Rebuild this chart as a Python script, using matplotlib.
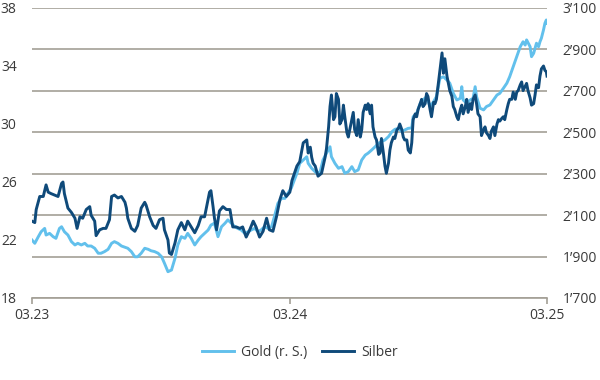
import matplotlib.pyplot as plt
import matplotlib.dates as mdates
from matplotlib.ticker import FuncFormatter
import pandas as pd

plt.rcParams['font.family'] = ['Open Sans', 'DejaVu Sans']

# silver, USD/oz (left axis)
silver_dates = [
    '2023-03-01', '2023-03-05', '2023-03-07', '2023-03-12', '2023-03-17', '2023-03-21', '2023-03-24', '2023-03-28',
    '2023-04-02', '2023-04-07', '2023-04-12', '2023-04-14', '2023-04-16', '2023-04-21', '2023-04-26', '2023-05-01',
    '2023-05-04', '2023-05-08', '2023-05-12', '2023-05-17', '2023-05-22', '2023-05-24', '2023-05-29', '2023-05-31',
    '2023-06-05', '2023-06-10', '2023-06-14', '2023-06-19', '2023-06-22', '2023-06-26', '2023-07-01', '2023-07-06',
    '2023-07-11', '2023-07-13', '2023-07-15', '2023-07-20', '2023-07-25', '2023-07-29', '2023-08-03', '2023-08-08',
    '2023-08-10', '2023-08-15', '2023-08-20', '2023-08-24', '2023-08-29', '2023-09-03', '2023-09-05', '2023-09-10',
    '2023-09-12', '2023-09-15', '2023-09-20', '2023-09-24', '2023-09-29', '2023-10-04', '2023-10-08', '2023-10-13',
    '2023-10-18', '2023-10-23', '2023-10-27', '2023-11-01', '2023-11-06', '2023-11-08', '2023-11-10', '2023-11-13',
    '2023-11-15', '2023-11-18', '2023-11-22', '2023-11-27', '2023-12-02', '2023-12-07', '2023-12-11', '2023-12-16',
    '2023-12-21', '2023-12-25', '2023-12-30', '2024-01-04', '2024-01-09', '2024-01-13', '2024-01-18', '2024-01-23',
    '2024-01-28', '2024-02-01', '2024-02-06', '2024-02-11', '2024-02-16', '2024-02-20', '2024-02-25', '2024-03-01',
    '2024-03-04', '2024-03-11', '2024-03-15', '2024-03-20', '2024-03-25', '2024-03-27', '2024-03-30', '2024-04-01',
    '2024-04-03', '2024-04-06', '2024-04-10', '2024-04-15', '2024-04-20', '2024-04-22', '2024-04-25', '2024-04-27',
    '2024-04-29', '2024-05-02', '2024-05-04', '2024-05-06', '2024-05-09', '2024-05-11', '2024-05-14', '2024-05-16',
    '2024-05-18', '2024-05-21', '2024-05-23', '2024-05-25', '2024-05-28', '2024-05-30', '2024-06-01', '2024-06-04',
    '2024-06-06', '2024-06-09', '2024-06-11', '2024-06-13', '2024-06-16', '2024-06-18', '2024-06-20', '2024-06-23',
    '2024-06-25', '2024-06-27', '2024-06-30', '2024-07-02', '2024-07-05', '2024-07-07', '2024-07-09', '2024-07-12',
    '2024-07-14', '2024-07-16', '2024-07-19', '2024-07-21', '2024-07-23', '2024-07-26', '2024-07-28', '2024-07-31',
    '2024-08-02', '2024-08-04', '2024-08-07', '2024-08-09', '2024-08-11', '2024-08-14', '2024-08-16', '2024-08-19',
    '2024-08-21', '2024-08-23', '2024-08-26', '2024-08-28', '2024-08-30', '2024-09-02', '2024-09-04', '2024-09-06',
    '2024-09-09', '2024-09-11', '2024-09-13', '2024-09-16', '2024-09-18', '2024-09-21', '2024-09-23', '2024-09-25',
    '2024-09-28', '2024-09-30', '2024-10-03', '2024-10-05', '2024-10-07', '2024-10-10', '2024-10-12', '2024-10-14',
    '2024-10-17', '2024-10-19', '2024-10-21', '2024-10-24', '2024-10-26', '2024-10-29', '2024-10-31', '2024-11-02',
    '2024-11-05', '2024-11-07', '2024-11-09', '2024-11-12', '2024-11-14', '2024-11-16', '2024-11-19', '2024-11-21',
    '2024-11-23', '2024-11-26', '2024-11-28', '2024-12-01', '2024-12-03', '2024-12-05', '2024-12-08', '2024-12-10',
    '2024-12-12', '2024-12-15', '2024-12-17', '2024-12-20', '2024-12-22', '2024-12-24', '2024-12-27', '2024-12-29',
    '2024-12-31', '2025-01-03', '2025-01-05', '2025-01-07', '2025-01-10', '2025-01-12', '2025-01-15', '2025-01-17',
    '2025-01-19', '2025-01-22', '2025-01-24', '2025-01-26', '2025-01-29', '2025-01-31', '2025-02-02', '2025-02-05',
    '2025-02-07', '2025-02-10', '2025-02-12', '2025-02-14', '2025-02-17', '2025-02-19', '2025-02-21', '2025-02-24',
    '2025-02-26', '2025-02-28', '2025-03-01',
]
silver = [
    23.3, 23.2, 24.1, 25.0, 25.0, 25.8, 25.3, 25.2,
    25.1, 25.0, 25.9, 26.0, 25.2, 24.2, 23.9, 23.5,
    22.8, 23.6, 23.5, 24.1, 24.3, 23.7, 23.3, 22.3,
    22.7, 22.8, 22.8, 23.4, 25.0, 25.1, 24.9, 25.0,
    24.6, 24.2, 23.5, 22.8, 22.6, 23.0, 24.2, 24.6,
    24.4, 23.6, 23.0, 22.8, 23.4, 23.5, 22.7, 22.0,
    21.1, 21.0, 21.8, 22.7, 23.2, 22.7, 23.3, 22.9,
    22.5, 23.0, 23.6, 23.6, 24.8, 25.3, 25.4, 24.3,
    23.5, 22.7, 24.0, 24.3, 24.1, 24.1, 22.9, 22.9,
    22.8, 22.9, 22.2, 22.7, 23.3, 22.9, 22.2, 22.6,
    23.5, 22.7, 22.6, 23.6, 24.8, 25.4, 25.0, 25.3,
    26.1, 27.1, 27.4, 28.7, 28.9, 28.0, 28.4, 27.7,
    27.3, 27.1, 26.4, 26.6, 27.7, 28.3, 29.8, 31.2,
    32.0, 30.3, 30.5, 32.1, 31.7, 30.0, 30.3, 31.3,
    30.5, 29.4, 29.1, 29.6, 30.3, 30.8, 29.6, 29.2,
    30.3, 29.1, 29.6, 30.8, 31.3, 31.0, 31.4, 30.7,
    31.3, 29.8, 29.1, 28.9, 27.9, 28.0, 29.0, 27.9,
    27.1, 26.6, 27.3, 28.2, 28.7, 29.1, 29.0, 29.6,
    29.7, 30.0, 29.6, 29.1, 28.9, 28.9, 28.2, 28.0,
    28.7, 30.3, 30.7, 30.5, 31.0, 31.4, 31.7, 31.2,
    31.4, 32.1, 31.9, 31.0, 30.5, 31.5, 31.4, 31.7,
    32.9, 33.7, 34.9, 33.5, 34.5, 33.3, 32.8, 32.3,
    31.9, 31.2, 31.0, 30.5, 30.3, 31.0, 31.3, 30.7,
    31.2, 31.7, 30.8, 31.4, 31.0, 31.7, 32.0, 31.4,
    30.7, 30.5, 29.2, 29.6, 29.8, 29.4, 29.2, 29.0,
    29.5, 29.8, 29.2, 30.0, 30.3, 30.2, 30.4, 30.5,
    30.3, 31.0, 31.4, 31.7, 31.7, 32.2, 31.7, 32.2,
    32.3, 32.7, 32.9, 32.3, 32.6, 32.8, 32.3, 31.8,
    31.3, 31.4, 32.0, 32.7, 32.5, 33.3, 33.8, 34.0,
    33.7, 33.6, 33.3,
]

# gold, USD/oz (right axis)
gold_dates = [
    '2023-03-01', '2023-03-05', '2023-03-10', '2023-03-14', '2023-03-19', '2023-03-21', '2023-03-26', '2023-03-31',
    '2023-04-04', '2023-04-09', '2023-04-12', '2023-04-16', '2023-04-21', '2023-04-26', '2023-05-01', '2023-05-05',
    '2023-05-10', '2023-05-15', '2023-05-19', '2023-05-24', '2023-05-29', '2023-06-03', '2023-06-07', '2023-06-12',
    '2023-06-17', '2023-06-22', '2023-06-26', '2023-07-01', '2023-07-06', '2023-07-11', '2023-07-15', '2023-07-20',
    '2023-07-25', '2023-07-29', '2023-08-03', '2023-08-08', '2023-08-13', '2023-08-17', '2023-08-22', '2023-08-27',
    '2023-09-01', '2023-09-05', '2023-09-10', '2023-09-15', '2023-09-20', '2023-09-24', '2023-09-29', '2023-10-04',
    '2023-10-08', '2023-10-13', '2023-10-18', '2023-10-23', '2023-10-27', '2023-11-01', '2023-11-06', '2023-11-10',
    '2023-11-15', '2023-11-20', '2023-11-25', '2023-11-30', '2023-12-04', '2023-12-09', '2023-12-14', '2023-12-18',
    '2023-12-23', '2023-12-28', '2024-01-02', '2024-01-06', '2024-01-11', '2024-01-16', '2024-01-20', '2024-01-25',
    '2024-01-30', '2024-02-04', '2024-02-08', '2024-02-13', '2024-02-18', '2024-02-23', '2024-02-27', '2024-03-03',
    '2024-03-11', '2024-03-15', '2024-03-20', '2024-03-25', '2024-03-27', '2024-04-01', '2024-04-08', '2024-04-13',
    '2024-04-17', '2024-04-22', '2024-04-27', '2024-04-29', '2024-05-04', '2024-05-09', '2024-05-14', '2024-05-18',
    '2024-05-23', '2024-05-28', '2024-06-01', '2024-06-06', '2024-06-11', '2024-06-16', '2024-06-20', '2024-06-25',
    '2024-06-30', '2024-07-05', '2024-07-09', '2024-07-14', '2024-07-19', '2024-07-24', '2024-07-28', '2024-08-02',
    '2024-08-07', '2024-08-11', '2024-08-16', '2024-08-21', '2024-08-23', '2024-08-28', '2024-09-02', '2024-09-06',
    '2024-09-11', '2024-09-16', '2024-09-21', '2024-09-25', '2024-09-30', '2024-10-05', '2024-10-10', '2024-10-14',
    '2024-10-19', '2024-10-24', '2024-10-29', '2024-10-31', '2024-11-02', '2024-11-07', '2024-11-12', '2024-11-16',
    '2024-11-19', '2024-11-21', '2024-11-26', '2024-12-01', '2024-12-05', '2024-12-10', '2024-12-15', '2024-12-20',
    '2024-12-24', '2024-12-29', '2025-01-03', '2025-01-07', '2025-01-12', '2025-01-17', '2025-01-22', '2025-01-26',
    '2025-01-29', '2025-01-31', '2025-02-05', '2025-02-07', '2025-02-10', '2025-02-12', '2025-02-14', '2025-02-17',
    '2025-02-19', '2025-02-21', '2025-02-24', '2025-02-26', '2025-02-28', '2025-03-01',
]
gold = [
    1980, 1964, 1996, 2020, 2036, 2004, 2012, 1996,
    1988, 2036, 2044, 2020, 2004, 1972, 1956, 1964,
    1956, 1964, 1951, 1951, 1940, 1916, 1916, 1924,
    1935, 1964, 1972, 1964, 1951, 1945, 1940, 1924,
    1899, 1899, 1916, 1940, 1935, 1928, 1924, 1916,
    1899, 1868, 1827, 1835, 1892, 1956, 1996, 1988,
    2012, 1988, 1956, 1980, 1996, 2012, 2028, 2052,
    2061, 1996, 2044, 2061, 2077, 2061, 2044, 2036,
    2028, 2012, 2020, 2028, 2036, 2020, 2028, 2044,
    2036, 2044, 2092, 2157, 2181, 2181, 2205, 2230,
    2302, 2350, 2366, 2382, 2350, 2326, 2302, 2310,
    2366, 2399, 2430, 2382, 2350, 2326, 2334, 2302,
    2310, 2334, 2310, 2318, 2366, 2390, 2399, 2414,
    2430, 2447, 2455, 2463, 2479, 2503, 2514, 2519,
    2503, 2511, 2519, 2521, 2575, 2592, 2640, 2656,
    2672, 2624, 2648, 2672, 2761, 2768, 2752, 2737,
    2688, 2656, 2664, 2720, 2656, 2640, 2656, 2664,
    2720, 2672, 2616, 2608, 2624, 2632, 2656, 2680,
    2688, 2712, 2737, 2768, 2817, 2865, 2913, 2937,
    2921, 2946, 2913, 2865, 2881, 2905, 2930, 2913,
    2937, 2954, 2994, 3026, 3042, 3026,
]

x_ticks = ['2023-03-01', '2024-03-01', '2025-03-01']
x_labels = ['03.23', '03.24', '03.25']
silver_ticks = [18, 22, 26, 30, 34, 38]
gold_ticks = [1700, 1900, 2100, 2300, 2500, 2700, 2900, 3100]

c_gold = '#62c0ec'
c_silver = '#0f4a7a'
c_grid = '#a39f96'
c_text = '#3a3a3a'

fig = plt.figure(figsize=(6, 3.8), dpi=100)
ax = fig.add_axes([0.0533, 0.2158, 0.8584, 0.7632])
ax2 = ax.twinx()

# gold on the main axes (right scale, carries the grid)
g_line, = ax.plot(pd.to_datetime(gold_dates), gold, color=c_gold, lw=2.1, label='Gold (r. S.)')
ax.set_ylim(gold_ticks[0], gold_ticks[-1])
ax.set_yticks(gold_ticks)
ax.yaxis.tick_right()
ax.yaxis.set_major_formatter(FuncFormatter(lambda v, p: f'{int(v):,}'.replace(',', '\u2019')))
ax.grid(axis='y', color=c_grid, lw=1.2)
ax.set_axisbelow(True)

# silver on the twin (left scale)
s_line, = ax2.plot(pd.to_datetime(silver_dates), silver, color=c_silver, lw=2.1, label='Silber')
ax2.set_ylim(silver_ticks[0], silver_ticks[-1])
ax2.set_yticks(silver_ticks)
ax2.yaxis.tick_left()

ax.set_xlim(pd.Timestamp(x_ticks[0]), pd.Timestamp(x_ticks[-1]))
ax.set_xticks(pd.to_datetime(x_ticks))
ax.set_xticklabels(x_labels)

for a in (ax, ax2):
    for s in ('top', 'left', 'right'):
        a.spines[s].set_visible(False)
    a.tick_params(axis='y', length=0, pad=11, labelsize=10, labelcolor=c_text)
ax2.spines['bottom'].set_visible(False)
ax.spines['bottom'].set_color(c_grid)
ax.spines['bottom'].set_linewidth(1.2)
ax.tick_params(axis='x', length=4, width=1.2, color=c_grid, pad=3, labelsize=10, labelcolor=c_text)

fig.legend([g_line, s_line], ['Gold (r. S.)', 'Silber'], loc='center', bbox_to_anchor=(0.5, 0.073),
           ncol=2, frameon=False, fontsize=10, handlelength=2.3, handletextpad=0.5,
           columnspacing=1.1, labelcolor=c_text)

fig.savefig('out.png', dpi=100)
